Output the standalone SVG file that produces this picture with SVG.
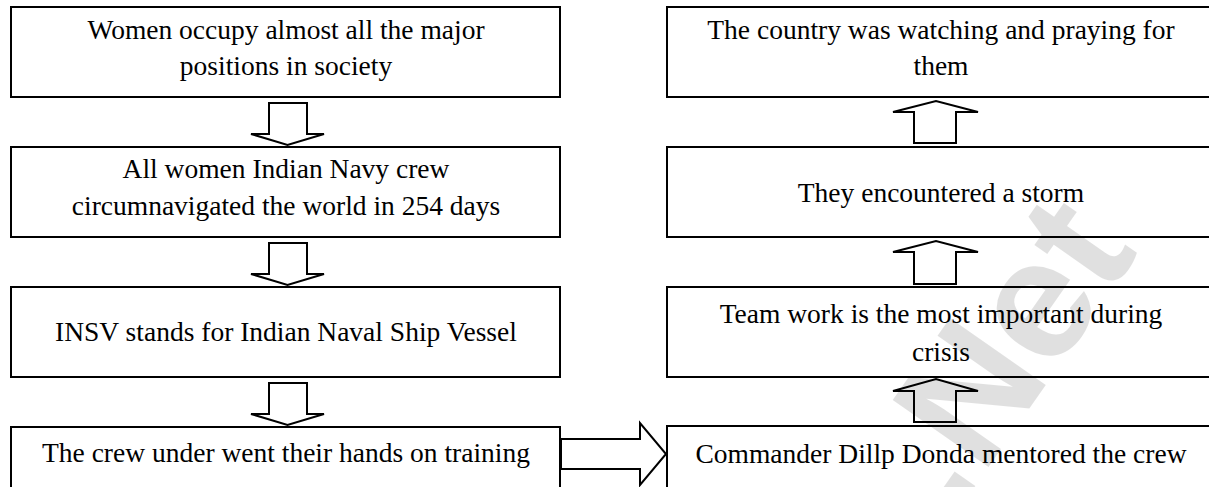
<svg xmlns="http://www.w3.org/2000/svg" width="1209" height="487" viewBox="0 0 1209 487">
<style>
.box{fill:#fff;stroke:#000;stroke-width:2}
.arr{fill:#fff;stroke:#000;stroke-width:2;stroke-linejoin:miter}
.t{font-family:"Liberation Serif","Times New Roman",serif;font-size:27.5px;fill:#000;text-anchor:middle}
.wm{font-family:"Liberation Sans",Arial,sans-serif;font-weight:bold;font-size:170px;fill:#000;fill-opacity:0.12}
</style>
<rect width="1209" height="487" fill="#fff"/>
<g id="n1"><rect class="box" x="11" y="7" width="549" height="90"/><text class="t" x="286" y="39">Women occupy almost all the major</text><text class="t" x="286" y="75">positions in society</text></g>
<g id="n2"><rect class="box" x="11" y="147" width="549" height="90"/><text class="t" x="286" y="178">All women Indian Navy crew</text><text class="t" x="286" y="215">circumnavigated the world in 254 days</text></g>
<g id="n3"><rect class="box" x="11" y="287" width="549" height="90"/><text class="t" x="286" y="341">INSV stands for Indian Naval Ship Vessel</text></g>
<g id="n4"><rect class="box" x="11" y="427" width="549" height="80"/><text class="t" x="286" y="462">The crew under went their hands on training</text></g>
<g id="n5"><rect class="box" x="667" y="426" width="560" height="80"/><text class="t" x="941" y="463">Commander Dillp Donda mentored the crew</text></g>
<g id="n6"><rect class="box" x="667" y="287" width="560" height="90"/><text class="t" x="941" y="323">Team work is the most important during</text><text class="t" x="941" y="361">crisis</text></g>
<g id="n7"><rect class="box" x="667" y="147" width="560" height="90"/><text class="t" x="941" y="202">They encountered a storm</text></g>
<g id="n8"><rect class="box" x="667" y="7" width="560" height="90"/><text class="t" x="941" y="39">The country was watching and praying for</text><text class="t" x="941" y="75">them</text></g>
<g id="connectors">
<polygon class="arr" points="269,103 307,103 307,134 324,134 287.5,145 251,134 269,134"/>
<polygon class="arr" points="269,243 307,243 307,274 324,274 287.5,285 251,274 269,274"/>
<polygon class="arr" points="269,383 307,383 307,414 324,414 287.5,425 251,414 269,414"/>
<polygon class="arr" points="561,439 640,439 640,423 666,454 640,485 640,469 561,469"/>
<polygon class="arr" points="914,422 956,422 956,391 978,391 936,379 893,391 914,391"/>
<polygon class="arr" points="914,284 956,284 956,252 978,252 936,241 893,252 914,252"/>
<polygon class="arr" points="914,143 956,143 956,112 978,112 936,101 893,112 914,112"/>
</g>
<text class="wm" transform="translate(955,515) rotate(-55)">.Net</text>
</svg>
